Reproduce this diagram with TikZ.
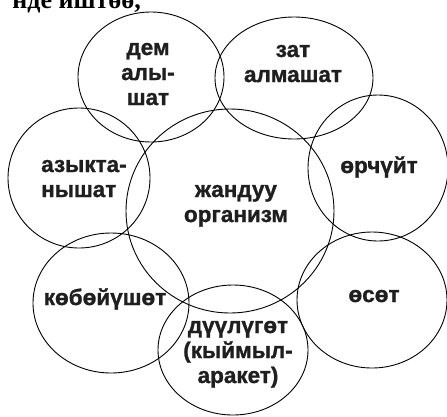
\documentclass[tikz,border=0pt]{standalone}
\usepackage{fontspec}
\setmainfont{Liberation Sans}
\newfontfamily\lblfont[FakeBold=1.2]{Liberation Sans Bold}
\newfontfamily\serifbf{Liberation Serif Bold}
\begin{document}
\begin{tikzpicture}[x=1pt,y=-1pt,
  blob/.style={draw=black,line width=0.9pt},
  lbl/.style={font=\lblfont\fontsize{22.5}{25}\selectfont,text=black!88,align=center,inner sep=0pt},
  lbll/.style={lbl,align=left}]
\useasboundingbox (0,0) rectangle (447,416);
\begin{scope}
\clip (0,0) rectangle (447,416);
\node[font=\serifbf\fontsize{26}{30}\selectfont,anchor=base east,inner sep=0pt] (top) at (141,8) {нде иштөө,};
\end{scope}
% ellipses
\draw[blob] (151,77) ellipse [x radius=73,y radius=65];
\draw[blob] (294,78) ellipse [x radius=79,y radius=61];
\draw[blob] (378,168) ellipse [x radius=70,y radius=73];
\draw[blob] (79,178) ellipse [x radius=71,y radius=70];
\draw[blob] (230,211) ellipse [x radius=104,y radius=102];
\draw[blob] (111,303) ellipse [x radius=78,y radius=70];
\draw[blob] (372,300) ellipse [x radius=75,y radius=68];
\draw[blob] (233,350) ellipse [x radius=75,y radius=65];
% labels (base = baseline of the last line)
\node[lbl,anchor=base] (dem) at (148,105) {дем\\алы-\\шат};
\node[lbl,anchor=base] (zat) at (293,82) {зат\\алмашат};
\node[lbll,anchor=base west] (azyk) at (41,197) {азыкта-\\нышат};
\node[lbl,anchor=base] (jan) at (236,222) {жандуу\\организм};
\node[lbl,anchor=base] (orch) at (379,173) {өрчүйт};
\node[lbl,anchor=base] (kob) at (105,305) {көбөйүшөт};
\node[lbl,anchor=base] (oset) at (374,302) {өсөт};
\node[lbl,anchor=base] (duu) at (238,383) {дүүлүгөт\\(кыймыл-\\аракет)};
\end{tikzpicture}
\end{document}
